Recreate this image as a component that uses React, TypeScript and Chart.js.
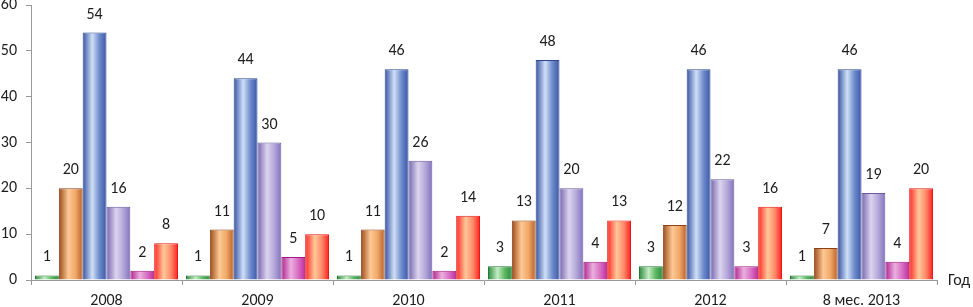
import React, { useEffect, useRef } from "react";
import { Chart, registerables } from "chart.js";

Chart.register(...registerables);

const categories = ["2008", "2009", "2010", "2011", "2012", "8 мес. 2013"];
const series1 = [1, 1, 1, 3, 3, 1];
const series2 = [20, 11, 11, 13, 12, 7];
const series3 = [54, 44, 46, 48, 46, 46];
const series4 = [16, 30, 26, 20, 22, 19];
const series5 = [2, 5, 2, 4, 3, 4];
const series6 = [8, 10, 14, 13, 16, 20];
const yTicks = [0, 10, 20, 30, 40, 50, 60];
const axisTitleX = "Год";

// gradient stops per series: [left, light, mid, right]
const palettes = [
  ["#2b8a3c", "#c4ecc4", "#5cb860", "#2b8a3c"],
  ["#9a4a1a", "#fdc894", "#f0a868", "#b85e28"],
  ["#3651a3", "#cfe0f6", "#6f8ccc", "#3a56a8"],
  ["#7564ae", "#dcd4ee", "#b4a8da", "#8272bc"],
  ["#b0208e", "#eab0de", "#d870c4", "#c02c9e"],
  ["#ff2424", "#ffc898", "#ff8a6a", "#ff1e1e"],
];
const borders = ["#237a32", "#8a4216", "#2e4890", "#6a5aa0", "#a01880", "#e81818"];

const FONT = "Carlito, Calibri, Lato, 'Open Sans', sans-serif";

const gradientPlugin = {
  id: "barGradients",
  beforeDatasetsDraw(chart: any) {
    const ctx = chart.ctx;
    chart.data.datasets.forEach((ds: any, di: number) => {
      const meta = chart.getDatasetMeta(di);
      const p = palettes[di];
      meta.data.forEach((el: any) => {
        const half = el.width / 2;
        const g = ctx.createLinearGradient(el.x - half, 0, el.x + half, 0);
        g.addColorStop(0, p[0]);
        g.addColorStop(0.4, p[1]);
        g.addColorStop(0.7, p[2]);
        g.addColorStop(1, p[3]);
        el.options = Object.assign({}, el.options, { backgroundColor: g });
      });
    });
  },
  afterDatasetsDraw(chart: any) {
    const ctx = chart.ctx;
    ctx.save();
    ctx.font = `16px ${FONT}`;
    ctx.fillStyle = "#1e1e1e";
    ctx.textAlign = "center";
    ctx.textBaseline = "middle";
    chart.data.datasets.forEach((ds: any, di: number) => {
      const meta = chart.getDatasetMeta(di);
      meta.data.forEach((el: any, i: number) => {
        ctx.fillText(String(ds.data[i]), el.x, el.y - 18);
      });
    });
    const area = chart.chartArea;
    ctx.textAlign = "left";
    ctx.fillText(axisTitleX, area.right + 11, area.bottom + 1);
    ctx.restore();
  },
};

export default function App() {
  const ref = useRef<HTMLCanvasElement | null>(null);
  useEffect(() => {
    document.body.style.margin = "0";
    const values = [series1, series2, series3, series4, series5, series6];
    const chart = new Chart(ref.current as HTMLCanvasElement, {
      type: "bar",
      data: {
        labels: categories,
        datasets: values.map((v, i) => ({
          data: v,
          backgroundColor: palettes[i][1],
          borderColor: borders[i],
          borderWidth: 1,
          borderSkipped: "bottom",
          categoryPercentage: 0.947,
          barPercentage: 1,
        })),
      },
      options: {
        animation: false,
        responsive: false,
        layout: { padding: { top: 5, right: 36, left: 0, bottom: 0 } },
        plugins: { legend: { display: false }, tooltip: { enabled: false } },
        scales: {
          x: {
            afterFit: (s: any) => {
              s.height = 27;
              s.paddingLeft = 0;
              s.paddingRight = 0;
            },
            grid: {
              display: true,
              drawOnChartArea: false,
              offset: true,
              tickLength: 5,
              color: "#999",
            },
            border: { color: "#999", width: 1 },
            ticks: { color: "#1e1e1e", font: { size: 16, family: FONT }, padding: 6, maxRotation: 0 },
          },
          y: {
            min: 0,
            max: 60,
            afterFit: (s: any) => {
              s.width = 31;
              s.paddingTop = 0;
              s.paddingBottom = 0;
            },
            afterBuildTicks: (s: any) => {
              s.ticks = yTicks.map((v) => ({ value: v }));
            },
            grid: { display: true, drawOnChartArea: false, tickLength: 5, color: "#999" },
            border: { color: "#999", width: 1 },
            ticks: { color: "#1e1e1e", font: { size: 16, family: FONT }, padding: 9 },
          },
        },
      },
      plugins: [gradientPlugin],
    });
    return () => chart.destroy();
  }, []);
  return (
    <div style={{ width: 973, height: 307 }}>
      <canvas ref={ref} width={973} height={307} style={{ display: "block" }} />
    </div>
  );
}
